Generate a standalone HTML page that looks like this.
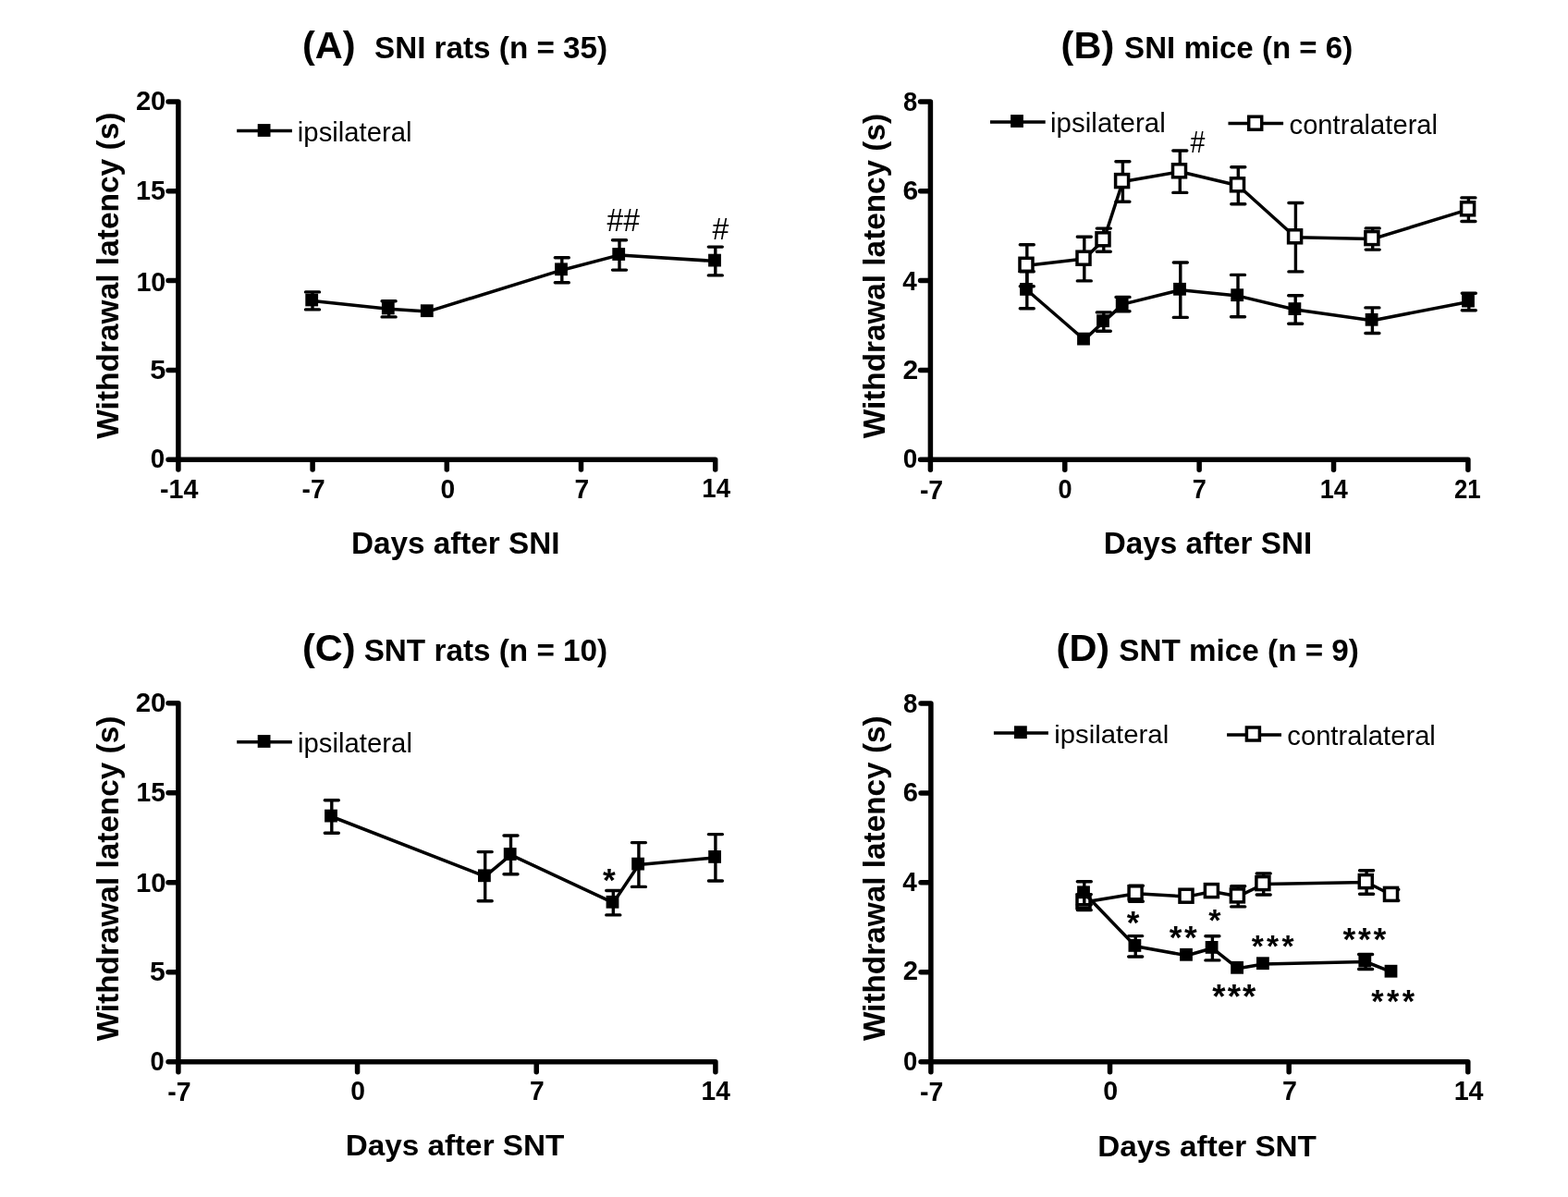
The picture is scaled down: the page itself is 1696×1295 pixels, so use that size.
<!DOCTYPE html><html><head><meta charset="utf-8"><style>html,body{margin:0;padding:0;background:#fff;}svg{display:block}.b{font-family:"Liberation Sans",Arial,sans-serif;font-weight:bold}.r{font-family:"Liberation Sans",Arial,sans-serif;font-weight:normal}</style></head><body>
<svg width="1696" height="1295" viewBox="0 0 1696 1295">
<rect width="1696" height="1295" fill="#fff"/>
<g class="shapes" stroke="#000" stroke-linecap="round" stroke-linejoin="round" fill="none">
<path d="M192.9 109.9L192.9 497.2M192.9 497.2L773.7 497.2M192.9 497.2L182.05 497.2M192.9 400.38L182.05 400.38M192.9 303.55L182.05 303.55M192.9 206.73L182.05 206.73M192.9 109.9L182.05 109.9M192.9 497.2L192.9 508.05M338.1 497.2L338.1 508.05M483.3 497.2L483.3 508.05M628.5 497.2L628.5 508.05M773.7 497.2L773.7 508.05" stroke-width="5.5"/>
<path d="M1006.4 109.9L1006.4 497.3M1006.4 497.3L1587.9 497.3M1006.4 497.3L995.55 497.3M1006.4 400.45L995.55 400.45M1006.4 303.6L995.55 303.6M1006.4 206.75L995.55 206.75M1006.4 109.9L995.55 109.9M1006.4 497.3L1006.4 508.15M1151.78 497.3L1151.78 508.15M1297.15 497.3L1297.15 508.15M1442.53 497.3L1442.53 508.15M1587.9 497.3L1587.9 508.15" stroke-width="5.5"/>
<path d="M192.9 760.7L192.9 1148.8M192.9 1148.8L773.9 1148.8M192.9 1148.8L182.05 1148.8M192.9 1051.78L182.05 1051.78M192.9 954.75L182.05 954.75M192.9 857.73L182.05 857.73M192.9 760.7L182.05 760.7M192.9 1148.8L192.9 1159.65M386.57 1148.8L386.57 1159.65M580.23 1148.8L580.23 1159.65M773.9 1148.8L773.9 1159.65" stroke-width="5.5"/>
<path d="M1006.9 760.9L1006.9 1148.8M1006.9 1148.8L1587.8 1148.8M1006.9 1148.8L996.05 1148.8M1006.9 1051.83L996.05 1051.83M1006.9 954.85L996.05 954.85M1006.9 857.88L996.05 857.88M1006.9 760.9L996.05 760.9M1006.9 1148.8L1006.9 1159.65M1200.53 1148.8L1200.53 1159.65M1394.17 1148.8L1394.17 1159.65M1587.8 1148.8L1587.8 1159.65" stroke-width="5.5"/>
</g>
<path class="shapes" d="M338 315.9L338 334.9M330.5 315.9L345.5 315.9M330.5 334.9L345.5 334.9M420.6 325.7L420.6 342.9M413.1 325.7L428.1 325.7M413.1 342.9L428.1 342.9M607.8 278.7L607.8 305.7M600.3 278.7L615.3 278.7M600.3 305.7L615.3 305.7M670 259.7L670 292.1M662.5 259.7L677.5 259.7M662.5 292.1L677.5 292.1M773.8 267.1L773.8 297.9M766.3 267.1L781.3 267.1M766.3 297.9L781.3 297.9" stroke="#000" stroke-width="3.4" stroke-linecap="round" fill="none"/>
<path class="shapes" d="M338 325.4L420.6 334.3L462.6 337.1L607.8 292.2L670 275.9L773.8 282.5" stroke="#000" stroke-width="3.5" stroke-linejoin="round" fill="none"/>
<g class="shapes" fill="#000"><rect x="330.3" y="317.6" width="13.8" height="13.8"/><rect x="412.9" y="326.5" width="13.8" height="13.8"/><rect x="454.9" y="329.3" width="13.8" height="13.8"/><rect x="600.1" y="284.4" width="13.8" height="13.8"/><rect x="662.3" y="268.1" width="13.8" height="13.8"/><rect x="766.1" y="274.7" width="13.8" height="13.8"/></g>
<path class="shapes" d="M1110.8 264.7L1110.8 309.7M1103.3 264.7L1118.3 264.7M1103.3 309.7L1118.3 309.7M1172.8 256.3L1172.8 303.9M1165.3 256.3L1180.3 256.3M1165.3 303.9L1180.3 303.9M1193.8 247.1L1193.8 272.3M1186.3 247.1L1201.3 247.1M1186.3 272.3L1201.3 272.3M1214.4 174.7L1214.4 218.3M1206.9 174.7L1221.9 174.7M1206.9 218.3L1221.9 218.3M1276.3 163L1276.3 208.4M1268.8 163L1283.8 163M1268.8 208.4L1283.8 208.4M1339.3 180.7L1339.3 220.7M1331.8 180.7L1346.8 180.7M1331.8 220.7L1346.8 220.7M1401.4 219.5L1401.4 293.9M1393.9 219.5L1408.9 219.5M1393.9 293.9L1408.9 293.9M1484.7 246.9L1484.7 270.1M1477.2 246.9L1492.2 246.9M1477.2 270.1L1492.2 270.1M1588.4 213.9L1588.4 239.5M1580.9 213.9L1595.9 213.9M1580.9 239.5L1595.9 239.5" stroke="#000" stroke-width="3.4" stroke-linecap="round" fill="none"/>
<path class="shapes" d="M1110.8 287.2L1172.8 280.1L1193.8 259.7L1214.4 196.5L1276.3 185.7L1339.3 200.7L1401.4 256.7L1484.7 258.5L1588.4 226.7" stroke="#000" stroke-width="3.5" stroke-linejoin="round" fill="none"/>
<g class="shapes" fill="#fff" stroke="#000" stroke-width="3.5"><rect x="1103" y="279.3" width="14" height="14"/><rect x="1165" y="272.2" width="14" height="14"/><rect x="1186" y="251.8" width="14" height="14"/><rect x="1206.6" y="188.6" width="14" height="14"/><rect x="1268.5" y="177.8" width="14" height="14"/><rect x="1331.5" y="192.8" width="14" height="14"/><rect x="1393.6" y="248.8" width="14" height="14"/><rect x="1476.9" y="250.6" width="14" height="14"/><rect x="1580.6" y="218.8" width="14" height="14"/></g>
<path class="shapes" d="M1110.8 293.8L1110.8 333.8M1103.3 293.8L1118.3 293.8M1103.3 333.8L1118.3 333.8M1193.8 337.9L1193.8 358.3M1186.3 337.9L1201.3 337.9M1186.3 358.3L1201.3 358.3M1214.5 321.4L1214.5 336.8M1207 321.4L1222 321.4M1207 336.8L1222 336.8M1276.8 284L1276.8 343.4M1269.3 284L1284.3 284M1269.3 343.4L1284.3 343.4M1339 297.4L1339 342.8M1331.5 297.4L1346.5 297.4M1331.5 342.8L1346.5 342.8M1401.2 319.7L1401.2 350.3M1393.7 319.7L1408.7 319.7M1393.7 350.3L1408.7 350.3M1484.4 332.9L1484.4 360.5M1476.9 332.9L1491.9 332.9M1476.9 360.5L1491.9 360.5M1588.8 317.2L1588.8 335.8M1581.3 317.2L1596.3 317.2M1581.3 335.8L1596.3 335.8" stroke="#000" stroke-width="3.4" stroke-linecap="round" fill="none"/>
<path class="shapes" d="M1110.8 313.8L1172.8 367.5L1193.8 348.1L1214.5 329.1L1276.8 313.7L1339 320.1L1401.2 335L1484.4 346.7L1588.8 326.5" stroke="#000" stroke-width="3.5" stroke-linejoin="round" fill="none"/>
<g class="shapes" fill="#000"><rect x="1103.1" y="306" width="13.8" height="13.8"/><rect x="1165.1" y="359.7" width="13.8" height="13.8"/><rect x="1186.1" y="340.3" width="13.8" height="13.8"/><rect x="1206.8" y="321.3" width="13.8" height="13.8"/><rect x="1269.1" y="305.9" width="13.8" height="13.8"/><rect x="1331.3" y="312.3" width="13.8" height="13.8"/><rect x="1393.5" y="327.2" width="13.8" height="13.8"/><rect x="1476.7" y="338.9" width="13.8" height="13.8"/><rect x="1581.1" y="318.7" width="13.8" height="13.8"/></g>
<path class="shapes" d="M358.8 865.8L358.8 901.2M351.3 865.8L366.3 865.8M351.3 901.2L366.3 901.2M524.7 921.6L524.7 974.8M517.2 921.6L532.2 921.6M517.2 974.8L532.2 974.8M552.5 904L552.5 945.8M545 904L560 904M545 945.8L560 945.8M663.3 963.5L663.3 989.9M655.8 963.5L670.8 963.5M655.8 989.9L670.8 989.9M690.9 911.6L690.9 959.4M683.4 911.6L698.4 911.6M683.4 959.4L698.4 959.4M773.9 902.6L773.9 953M766.4 902.6L781.4 902.6M766.4 953L781.4 953" stroke="#000" stroke-width="3.4" stroke-linecap="round" fill="none"/>
<path class="shapes" d="M358.8 883.5L524.7 948.2L552.5 924.9L663.3 976.7L690.9 935.5L773.9 927.8" stroke="#000" stroke-width="3.5" stroke-linejoin="round" fill="none"/>
<g class="shapes" fill="#000"><rect x="351.1" y="875.7" width="13.8" height="13.8"/><rect x="517" y="940.4" width="13.8" height="13.8"/><rect x="544.8" y="917.1" width="13.8" height="13.8"/><rect x="655.6" y="968.9" width="13.8" height="13.8"/><rect x="683.2" y="927.7" width="13.8" height="13.8"/><rect x="766.2" y="920" width="13.8" height="13.8"/></g>
<path class="shapes" d="M1172.8 967.6L1172.8 984.6M1165.3 967.6L1180.3 967.6M1165.3 984.6L1180.3 984.6M1228.9 958.2L1228.9 975.2M1221.4 958.2L1236.4 958.2M1221.4 975.2L1236.4 975.2M1339.2 958.7L1339.2 980.9M1331.7 958.7L1346.7 958.7M1331.7 980.9L1346.7 980.9M1366.7 945L1366.7 968M1359.2 945L1374.2 945M1359.2 968L1374.2 968M1478.1 941.7L1478.1 967.3M1470.6 941.7L1485.6 941.7M1470.6 967.3L1485.6 967.3M1505.3 962.3L1505.3 974.3M1497.8 962.3L1512.8 962.3M1497.8 974.3L1512.8 974.3" stroke="#000" stroke-width="3.4" stroke-linecap="round" fill="none"/>
<path class="shapes" d="M1172.8 976.1L1228.9 966.7L1283.8 970.1L1311.2 964.5L1339.2 969.8L1366.7 956.5L1478.1 954.5L1505.3 968.3" stroke="#000" stroke-width="3.5" stroke-linejoin="round" fill="none"/>
<g class="shapes" fill="#fff" stroke="#000" stroke-width="3.5"><rect x="1165" y="968.2" width="14" height="14"/><rect x="1221.1" y="958.8" width="14" height="14"/><rect x="1276" y="962.2" width="14" height="14"/><rect x="1303.4" y="956.6" width="14" height="14"/><rect x="1331.4" y="961.9" width="14" height="14"/><rect x="1358.9" y="948.6" width="14" height="14"/><rect x="1470.3" y="946.6" width="14" height="14"/><rect x="1497.5" y="960.4" width="14" height="14"/></g>
<path class="shapes" d="M1172.8 953.7L1172.8 978.7M1165.3 953.7L1180.3 953.7M1165.3 978.7L1180.3 978.7M1228.2 1012.6L1228.2 1035M1220.7 1012.6L1235.7 1012.6M1220.7 1035L1235.7 1035M1311.4 1012.7L1311.4 1038.9M1303.9 1012.7L1318.9 1012.7M1303.9 1038.9L1318.9 1038.9M1477.1 1032.5L1477.1 1048.5M1469.6 1032.5L1484.6 1032.5M1469.6 1048.5L1484.6 1048.5" stroke="#000" stroke-width="3.4" stroke-linecap="round" fill="none"/>
<path class="shapes" d="M1172.8 966.2L1228.2 1023.8L1283.8 1033.7L1311.4 1025.8L1338.9 1047.7L1366.7 1043.1L1477.1 1040.5L1505.3 1051.6" stroke="#000" stroke-width="3.5" stroke-linejoin="round" fill="none"/>
<g class="shapes" fill="#000"><rect x="1165.1" y="958.4" width="13.8" height="13.8"/><rect x="1220.5" y="1016" width="13.8" height="13.8"/><rect x="1276.1" y="1025.9" width="13.8" height="13.8"/><rect x="1303.7" y="1018" width="13.8" height="13.8"/><rect x="1331.2" y="1039.9" width="13.8" height="13.8"/><rect x="1359" y="1035.3" width="13.8" height="13.8"/><rect x="1469.4" y="1032.7" width="13.8" height="13.8"/><rect x="1497.6" y="1043.8" width="13.8" height="13.8"/></g>
<path class="shapes" d="M256.2 141.5L315.9 141.5" stroke="#000" stroke-width="3.5" fill="none"/>
<rect class="shapes" x="278.7" y="134.1" width="13.8" height="13.8" fill="#000"/>
<path class="shapes" d="M1071 132L1130.7 132" stroke="#000" stroke-width="3.5" fill="none"/>
<rect class="shapes" x="1093.1" y="124.1" width="13.8" height="13.8" fill="#000"/>
<path class="shapes" d="M1328.5 133.6L1388.1 133.6" stroke="#000" stroke-width="3.5" fill="none"/>
<rect class="shapes" x="1350.7" y="126.2" width="14" height="14" fill="#fff" stroke="#000" stroke-width="3.5"/>
<path class="shapes" d="M256.2 802.7L315.9 802.7" stroke="#000" stroke-width="3.5" fill="none"/>
<rect class="shapes" x="278.7" y="795.1" width="13.8" height="13.8" fill="#000"/>
<path class="shapes" d="M1074.9 793.1L1133.9 793.1" stroke="#000" stroke-width="3.5" fill="none"/>
<rect class="shapes" x="1097" y="785.3" width="13.8" height="13.8" fill="#000"/>
<path class="shapes" d="M1327.1 795.1L1386 795.1" stroke="#000" stroke-width="3.5" fill="none"/>
<rect class="shapes" x="1348.4" y="787" width="14" height="14" fill="#fff" stroke="#000" stroke-width="3.5"/>
<text class="b" transform="translate(178.08 506) scale(0.9372 1)" font-size="29.600" text-anchor="end" fill="#000">0</text>
<text class="b" transform="translate(179.26 409.65) scale(1.0400 1)" font-size="29.600" text-anchor="end" fill="#000">5</text>
<text class="b" transform="translate(179.31 314.53) scale(0.9693 1)" font-size="29.600" text-anchor="end" fill="#000">10</text>
<text class="b" transform="translate(179.02 216.02) scale(0.9700 1)" font-size="29.600" text-anchor="end" fill="#000">15</text>
<text class="b" transform="translate(179.31 119.38) scale(0.9839 1)" font-size="29.600" text-anchor="end" fill="#000">20</text>
<text class="b" transform="translate(193.79 538.59) scale(0.9695 1)" font-size="29.600" text-anchor="middle" fill="#000">-14</text>
<text class="b" transform="translate(339.04 538.54) scale(0.9513 1)" font-size="29.600" text-anchor="middle" fill="#000">-7</text>
<text class="b" transform="translate(484.24 538.54) scale(0.9513 1)" font-size="29.600" text-anchor="middle" fill="#000">0</text>
<text class="b" transform="translate(629.44 538.54) scale(0.9513 1)" font-size="29.600" text-anchor="middle" fill="#000">7</text>
<text class="b" transform="translate(774.69 538.49) scale(0.9331 1)" font-size="29.600" text-anchor="middle" fill="#000">14</text>
<text class="b" transform="translate(992.36 506.1) scale(0.9437 1)" font-size="29.600" text-anchor="end" fill="#000">0</text>
<text class="b" transform="translate(993.12 409.65) scale(1.0145 1)" font-size="29.600" text-anchor="end" fill="#000">2</text>
<text class="b" transform="translate(991.86 314.11) scale(0.9442 1)" font-size="29.600" text-anchor="end" fill="#000">4</text>
<text class="b" transform="translate(993.08 215.95) scale(1.0139 1)" font-size="29.600" text-anchor="end" fill="#000">6</text>
<text class="b" transform="translate(992.25 119.5) scale(0.9267 1)" font-size="29.600" text-anchor="end" fill="#000">8</text>
<text class="b" transform="translate(1007.55 539.7) scale(0.9623 1)" font-size="29.600" text-anchor="middle" fill="#000">-7</text>
<text class="b" transform="translate(1152.02 539.15) scale(0.9161 1)" font-size="29.600" text-anchor="middle" fill="#000">0</text>
<text class="b" transform="translate(1297.4 539.15) scale(0.9161 1)" font-size="29.600" text-anchor="middle" fill="#000">7</text>
<text class="b" transform="translate(1442.77 539.15) scale(0.9161 1)" font-size="29.600" text-anchor="middle" fill="#000">14</text>
<text class="b" transform="translate(1587.25 538.59) scale(0.8699 1)" font-size="29.600" text-anchor="middle" fill="#000">21</text>
<text class="b" transform="translate(177.73 1158.1) scale(0.9232 1)" font-size="29.600" text-anchor="end" fill="#000">0</text>
<text class="b" transform="translate(178.79 1061.03) scale(1.0193 1)" font-size="29.600" text-anchor="end" fill="#000">5</text>
<text class="b" transform="translate(179.55 964.51) scale(0.9882 1)" font-size="29.600" text-anchor="end" fill="#000">10</text>
<text class="b" transform="translate(178.8 867.48) scale(0.9522 1)" font-size="29.600" text-anchor="end" fill="#000">15</text>
<text class="b" transform="translate(179.42 769.8) scale(0.9927 1)" font-size="29.600" text-anchor="end" fill="#000">20</text>
<text class="b" transform="translate(193.82 1190.6) scale(0.9630 1)" font-size="29.600" text-anchor="middle" fill="#000">-7</text>
<text class="b" transform="translate(387.18 1190.39) scale(0.9552 1)" font-size="29.600" text-anchor="middle" fill="#000">0</text>
<text class="b" transform="translate(580.85 1190.39) scale(0.9552 1)" font-size="29.600" text-anchor="middle" fill="#000">7</text>
<text class="b" transform="translate(774.21 1190.19) scale(0.9473 1)" font-size="29.600" text-anchor="middle" fill="#000">14</text>
<text class="b" transform="translate(992.34 1158.1) scale(0.9278 1)" font-size="29.600" text-anchor="end" fill="#000">0</text>
<text class="b" transform="translate(993.01 1060.27) scale(0.9888 1)" font-size="29.600" text-anchor="end" fill="#000">2</text>
<text class="b" transform="translate(991.82 963.91) scale(0.9453 1)" font-size="29.600" text-anchor="end" fill="#000">4</text>
<text class="b" transform="translate(992.95 866.86) scale(0.9854 1)" font-size="29.600" text-anchor="end" fill="#000">6</text>
<text class="b" transform="translate(992.24 770.5) scale(0.9331 1)" font-size="29.600" text-anchor="end" fill="#000">8</text>
<text class="b" transform="translate(1007.6 1190.6) scale(0.9630 1)" font-size="29.600" text-anchor="middle" fill="#000">-7</text>
<text class="b" transform="translate(1201.29 1190.39) scale(0.9655 1)" font-size="29.600" text-anchor="middle" fill="#000">0</text>
<text class="b" transform="translate(1394.92 1190.39) scale(0.9655 1)" font-size="29.600" text-anchor="middle" fill="#000">7</text>
<text class="b" transform="translate(1588.62 1190.19) scale(0.9680 1)" font-size="29.600" text-anchor="middle" fill="#000">14</text>
<text class="b" transform="translate(326.93 63.44) scale(1.0046 1)" font-size="41.310" text-anchor="start" fill="#000">(A)</text>
<text class="b" transform="translate(404.96 62.9) scale(1.0138 1)" font-size="32.800" text-anchor="start" fill="#000">SNI rats (n = 35)</text>
<text class="b" transform="translate(1147.61 63.44) scale(1.0046 1)" font-size="41.310" text-anchor="start" fill="#000">(B)</text>
<text class="b" transform="translate(1216.11 62.9) scale(1.0083 1)" font-size="32.800" text-anchor="start" fill="#000">SNI mice (n = 6)</text>
<text class="b" transform="translate(326.94 715.06) scale(0.9993 1)" font-size="41.530" text-anchor="start" fill="#000">(C)</text>
<text class="b" transform="translate(393.64 714.6) scale(1.0151 1)" font-size="32.800" text-anchor="start" fill="#000">SNT rats (n = 10)</text>
<text class="b" transform="translate(1142.6 715.06) scale(0.9993 1)" font-size="41.530" text-anchor="start" fill="#000">(D)</text>
<text class="b" transform="translate(1210.31 714.6) scale(1.0144 1)" font-size="32.800" text-anchor="start" fill="#000">SNT mice (n = 9)</text>
<text class="b" transform="translate(492.7 599.1) scale(1.0244 1)" font-size="32.500" text-anchor="middle" fill="#000">Days after SNI</text>
<text class="b" transform="translate(1306.44 599.4) scale(1.0243 1)" font-size="32.500" text-anchor="middle" fill="#000">Days after SNI</text>
<text class="b" transform="translate(492.02 1250.32) scale(1.0583 1)" font-size="31.452" text-anchor="middle" fill="#000">Days after SNT</text>
<text class="b" transform="translate(1305.61 1250.71) scale(1.0481 1)" font-size="31.766" text-anchor="middle" fill="#000">Days after SNT</text>
<text class="b" transform="translate(127.79 298.12) rotate(-90) scale(0.9878 1)" font-size="33.897" text-anchor="middle" fill="#000">Withdrawal latency (s)</text>
<text class="b" transform="translate(957.18 298.56) rotate(-90) scale(0.9824 1)" font-size="33.897" text-anchor="middle" fill="#000">Withdrawal latency (s)</text>
<text class="b" transform="translate(127.79 950.53) rotate(-90) scale(0.9835 1)" font-size="33.897" text-anchor="middle" fill="#000">Withdrawal latency (s)</text>
<text class="b" transform="translate(957.18 950.22) rotate(-90) scale(0.9841 1)" font-size="33.897" text-anchor="middle" fill="#000">Withdrawal latency (s)</text>
<text class="r" transform="translate(321.86 153.09) scale(1.0096 1)" font-size="29.000" text-anchor="start" fill="#000">ipsilateral</text>
<text class="r" transform="translate(1136.05 143.38) scale(1.0181 1)" font-size="29.000" text-anchor="start" fill="#000">ipsilateral</text>
<text class="r" transform="translate(1394.55 145.2) scale(1.0126 1)" font-size="28.813" text-anchor="start" fill="#000">contralateral</text>
<text class="r" transform="translate(322 813.7) scale(1.0122 1)" font-size="29.000" text-anchor="start" fill="#000">ipsilateral</text>
<text class="r" transform="translate(1140.18 803.88) scale(1.0454 1)" font-size="28.080" text-anchor="start" fill="#000">ipsilateral</text>
<text class="r" transform="translate(1392.33 805.89) scale(1.0061 1)" font-size="29.000" text-anchor="start" fill="#000">contralateral</text>
<text class="r" transform="translate(674.21 249.59) scale(0.9278 1)" font-size="34.327" text-anchor="middle" fill="#000">##</text>
<text class="r" transform="translate(779.37 258.97) scale(0.9402 1)" font-size="34.036" text-anchor="middle" fill="#000">#</text>
<text class="r" transform="translate(1295.49 164.58) scale(0.8470 1)" font-size="33.745" text-anchor="middle" fill="#000">#</text>
<text class="b" x="658.91" y="963.96" font-size="35.371" text-anchor="middle" fill="#000">*</text>
<text class="b" x="1225.52" y="1010.16" font-size="35.241" text-anchor="middle" fill="#000">*</text>
<text class="b" x="1281.11" y="1025.67" font-size="35.241" text-anchor="middle" letter-spacing="2.610" fill="#000">**</text>
<text class="b" x="1313.9" y="1007.47" font-size="34.148" text-anchor="middle" fill="#000">*</text>
<text class="b" x="1378.27" y="1034.8" font-size="33.536" text-anchor="middle" letter-spacing="3.250" fill="#000">***</text>
<text class="b" x="1477.34" y="1027.66" font-size="35.525" text-anchor="middle" letter-spacing="2.755" fill="#000">***</text>
<text class="b" x="1335.81" y="1091.3" font-size="36.618" text-anchor="middle" letter-spacing="2.057" fill="#000">***</text>
<text class="b" x="1508.35" y="1095.11" font-size="34.307" text-anchor="middle" letter-spacing="3.354" fill="#000">***</text>
</svg></body></html>
